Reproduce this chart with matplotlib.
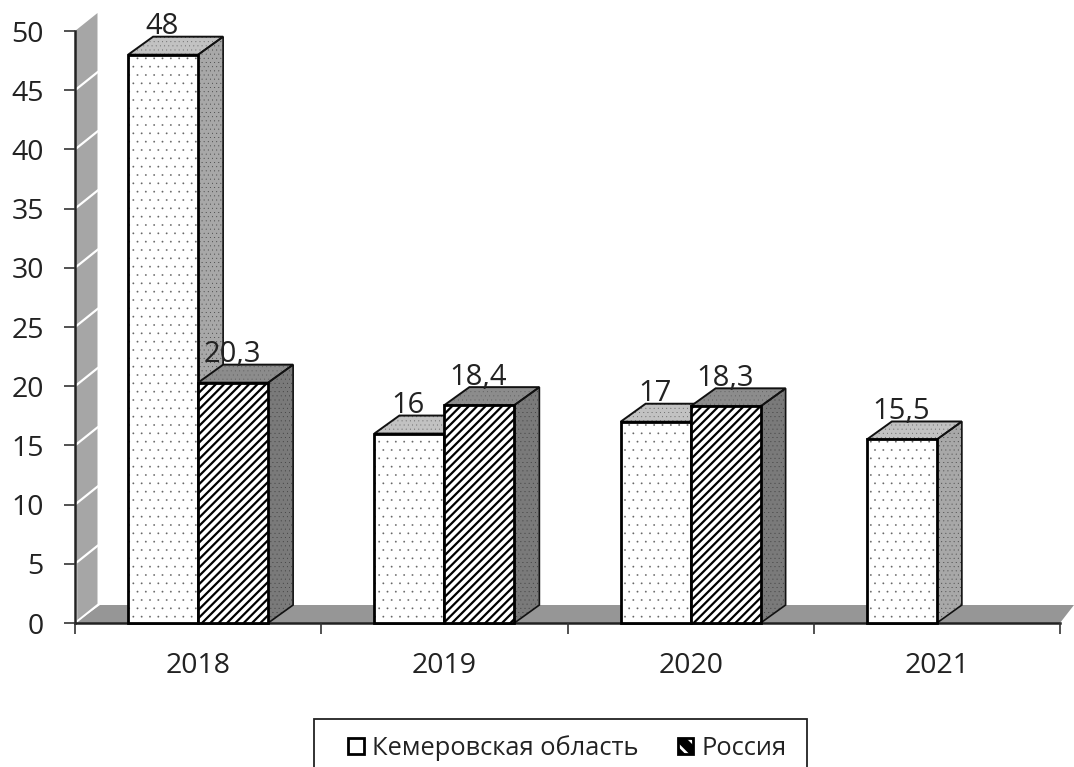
import matplotlib
matplotlib.use("Agg")
import matplotlib.pyplot as plt
from matplotlib.patches import Polygon, Patch, Rectangle
from matplotlib.legend_handler import HandlerTuple

plt.rcParams['font.family'] = ['Open Sans', 'DejaVu Sans']
plt.rcParams['hatch.linewidth'] = 2.0

years = ['2018', '2019', '2020', '2021']
series_names = ['Кемеровская область', 'Россия']
kem = [48, 16, 17, 15.5]
rus = [20.3, 18.4, 18.3, None]
kem_labels = ['48', '16', '17', '15,5']
rus_labels = ['20,3', '18,4', '18,3', '']
y_ticks = [0, 5, 10, 15, 20, 25, 30, 35, 40, 45, 50]

W, H = 1074, 767
fig = plt.figure(figsize=(W / 100, H / 100), dpi=100, facecolor='white')
L, R, T, B = 75, 1060, 31, 623
ax = fig.add_axes([L / W, 1 - B / H, (R - L) / W, (B - T) / H])
ax.set_xlim(0, 4)
ax.set_ylim(0, 50)
ax.patch.set_visible(False)

px = 4 / (R - L)
py = 50 / (B - T)
DX, DY = 25 * px, 18 * py
BW = 70 * px


class HatchPoly(Polygon):
    """Polygon whose hatch line width is its own."""

    def __init__(self, pts, hlw=2.0, **kw):
        self.hlw = hlw
        with plt.rc_context({'hatch.linewidth': hlw}):
            super().__init__(pts, closed=True, **kw)

    def draw(self, renderer):
        with plt.rc_context({'hatch.linewidth': self.hlw}):
            super().draw(renderer)


def poly(pts, z=1, hlw=0.1, **kw):
    kw.setdefault('linewidth', 0)
    kw.setdefault('clip_on', False)
    p = HatchPoly(pts, hlw=hlw, zorder=z, **kw)
    ax.add_patch(p)
    return p


# wall and floor
poly([(0, 0), (DX * 0.9, DY), (DX * 0.9, 50 + DY), (0, 50)], z=0.5, facecolor='#a6a6a6')
for v in y_ticks[1:-1]:
    ax.plot([0, DX * 0.9], [v, v + DY], color='white', lw=1.6, zorder=0.6, clip_on=False)
ax.plot([0.006, 0.006], [0, 5], color='white', lw=1, zorder=0.6, clip_on=False)
poly([(0, 0), (DX, DY), (4 + DX * 0.56, DY), (4, 0)], z=0.7, facecolor='#969696')
ax.plot([0, DX * 0.9], [0, DY], color='white', lw=1.4, zorder=0.75, clip_on=False)


def bar3d(x0, v, hatch, hlw, hc, top_c, side_c, z):
    x1 = x0 + BW
    side = [(x1, 0), (x1 + DX, DY), (x1 + DX, v + DY), (x1, v)]
    top = [(x0, v), (x0 + DX, v + DY), (x1 + DX, v + DY), (x1, v)]
    front = [(x0, 0), (x1, 0), (x1, v), (x0, v)]
    poly(side, z=z, facecolor=side_c, edgecolor='#333333', hatch='....', linewidth=0)
    poly(top, z=z, facecolor=top_c, edgecolor='#555555', hatch='....', linewidth=0)
    poly(side, z=z + .01, fill=False, edgecolor='#111111', linewidth=1.2)
    poly(top, z=z + .01, fill=False, edgecolor='#111111', linewidth=1.4)
    poly(front, z=z + .02, hlw=hlw, facecolor='white', edgecolor=hc, hatch=hatch, linewidth=0)
    poly(front, z=z + .03, fill=False, edgecolor='black', linewidth=2)


for i, y in enumerate(years):
    c = i + 0.5
    bar3d(c - BW, kem[i], '..', 0.1, '#666666', '#c2c2c2', '#a8a8a8', 2 + i * 0.2)
    ax.text(c - BW / 2 - 0.004, kem[i] + DY + 0.2, kem_labels[i], ha='center', va='baseline',
            fontsize=21, color='#222222', zorder=8, clip_on=False)
    if rus[i] is not None:
        bar3d(c, rus[i], '////', 1.6, 'black', '#8c8c8c', '#7a7a7a', 2.1 + i * 0.2)
        ax.text(c + BW / 2 - 0.004, rus[i] + DY + 0.2, rus_labels[i], ha='center', va='baseline',
                fontsize=21, color='#222222', zorder=8, clip_on=False)

ax.set_xticks([0, 1, 2, 3, 4])
ax.set_xticklabels([])
ax.set_xticks([0.5, 1.5, 2.5, 3.5], labels=years, minor=True)
ax.tick_params(axis='x', which='major', length=8, width=1.2, color='#333333')
ax.tick_params(axis='x', which='minor', length=0, pad=21, labelsize=20.5, labelcolor='#222222')
ax.set_yticks(y_ticks)
ax.tick_params(axis='y', length=8, width=1.2, color='#333333', pad=14.5, labelsize=20.5, labelcolor='#222222')
for s in ('top', 'right'):
    ax.spines[s].set_visible(False)
for s in ('left', 'bottom'):
    ax.spines[s].set_linewidth(1.8)
    ax.spines[s].set_color('#222222')
    ax.spines[s].set_zorder(1)

# legend frame runs past the bottom of the picture, as in the reference
fig.add_artist(Rectangle((314 / W, -0.02), (807 - 314) / W, 0.02 + 1 - 719 / H,
                         transform=fig.transFigure, facecolor='white',
                         edgecolor='#222222', linewidth=1.3))
h_kem = Patch(facecolor='white', edgecolor='black', linewidth=2)
h_rus = (Patch(facecolor='black', edgecolor='white', hatch='\\\\', linewidth=0),
         Patch(fill=False, edgecolor='black', linewidth=2))
leg = fig.legend([h_kem, h_rus], series_names, loc='upper left',
                 handler_map={tuple: HandlerTuple(ndivide=1, pad=0)},
                 bbox_to_anchor=(348 / W, 1 - 735 / H), frameon=False,
                 fontsize=18.4, handlelength=0.62, handleheight=0.62,
                 handletextpad=0.3, columnspacing=1.55, ncol=2, borderpad=0, borderaxespad=0)
for t in leg.get_texts():
    t.set_color('#222222')

fig.savefig('out.png', dpi=100)
